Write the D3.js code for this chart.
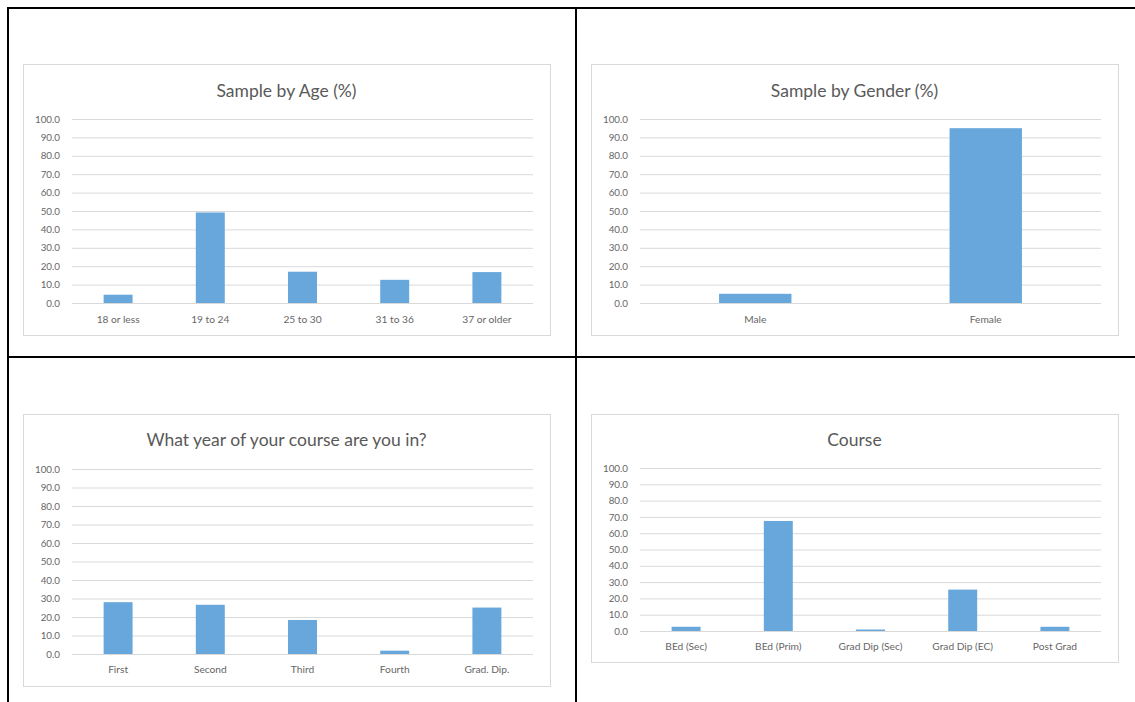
<!DOCTYPE html>
<html>
<head>
<meta charset="utf-8">
<script src="https://cdn.jsdelivr.net/npm/d3@7"></script>
<style>
  html, body { margin: 0; padding: 0; background: #fff; }
  svg { display: block; }
  text { font-family: Lato, "Open Sans", sans-serif; }
</style>
</head>
<body>
<svg id="sheet" width="1135" height="702"></svg>
<script>
// Survey sample breakdowns (percent of respondents)
const ageCategories = ["18 or less", "19 to 24", "25 to 30", "31 to 36", "37 or older"];
const ageValues = [4.5, 49.2, 17.0, 12.6, 16.8];

const genderCategories = ["Male", "Female"];
const genderValues = [5.0, 95.0];

const yearCategories = ["First", "Second", "Third", "Fourth", "Grad. Dip."];
const yearValues = [28.0, 26.6, 18.4, 1.8, 25.1];

const courseCategories = ["BEd (Sec)", "BEd (Prim)", "Grad Dip (Sec)", "Grad Dip (EC)", "Post Grad"];
const courseValues = [2.6, 67.5, 0.9, 25.4, 2.6];

const yTicks = [0, 10, 20, 30, 40, 50, 60, 70, 80, 90, 100];

const titles = ["Sample by Age (%)", "Sample by Gender (%)", "What year of your course are you in?", "Course"];

const svg = d3.select("#sheet");

// Table grid that holds the four charts
const grid = svg.append("g").attr("stroke", "#000").attr("stroke-width", 2);
grid.append("line").attr("x1", 7).attr("x2", 1135).attr("y1", 8).attr("y2", 8);
grid.append("line").attr("x1", 7).attr("x2", 1135).attr("y1", 357).attr("y2", 357);
grid.append("line").attr("x1", 8).attr("x2", 8).attr("y1", 7).attr("y2", 702);
grid.append("line").attr("x1", 576).attr("x2", 576).attr("y1", 7).attr("y2", 702);

function drawChart(box, plot, title, categories, values, opts) {
  const g = svg.append("g");
  g.append("rect")
    .attr("x", box.x + 0.5).attr("y", box.y + 0.5)
    .attr("width", box.w).attr("height", box.h)
    .attr("fill", "#fff").attr("stroke", "#d9d9d9").attr("stroke-width", 1);

  g.append("text")
    .attr("x", (plot.x0 + plot.x1) / 2 - 16)
    .attr("y", box.y + opts.titleY)
    .attr("text-anchor", "middle")
    .attr("fill", "#595959")
    .attr("font-size", 17.5)
    .text(title);

  const x = d3.scaleBand().domain(categories).range([plot.x0, plot.x1]).paddingInner(0.686).paddingOuter(0.343);
  const y = d3.scaleLinear().domain([0, 100]).range([plot.y0, plot.y1]);

  const yAxis = g.append("g")
    .attr("transform", `translate(${plot.x0},0)`)
    .call(d3.axisLeft(y).tickValues(yTicks).tickFormat(d3.format(".1f")).tickSize(-(plot.x1 - plot.x0)).tickPadding(12));
  yAxis.select(".domain").remove();
  yAxis.selectAll(".tick line").attr("stroke", "#d9d9d9").attr("stroke-width", 1);
  yAxis.selectAll(".tick text").attr("fill", "#666").attr("font-size", 9.8).attr("font-family", "Lato, sans-serif");

  g.selectAll("rect.bar")
    .data(values)
    .join("rect")
    .attr("class", "bar")
    .attr("x", (d, i) => x(categories[i]))
    .attr("width", x.bandwidth())
    .attr("y", d => y(d))
    .attr("height", d => y(0) - y(d))
    .attr("fill", "#67a7dc");

  const xAxis = g.append("g")
    .attr("transform", `translate(0,${plot.y0})`)
    .call(d3.axisBottom(x).tickSize(0).tickPadding(opts.xPad));
  xAxis.select(".domain").remove();
  xAxis.selectAll(".tick text").attr("fill", "#666").attr("font-size", 10.2).attr("font-family", "Lato, sans-serif");
}

drawChart({x: 23, y: 64, w: 527, h: 271}, {x0: 72, x1: 533, y0: 303, y1: 119},
  titles[0], ageCategories, ageValues, {titleY: 33, xPad: 13});
drawChart({x: 591, y: 64, w: 527, h: 271}, {x0: 640, x1: 1101, y0: 303, y1: 119},
  titles[1], genderCategories, genderValues, {titleY: 33, xPad: 13});
drawChart({x: 23, y: 414, w: 527, h: 272}, {x0: 72, x1: 533, y0: 654, y1: 469},
  titles[2], yearCategories, yearValues, {titleY: 32, xPad: 12});
drawChart({x: 591, y: 414, w: 527, h: 248}, {x0: 640, x1: 1101, y0: 631, y1: 468},
  titles[3], courseCategories, courseValues, {titleY: 32, xPad: 12});
</script>
</body>
</html>
